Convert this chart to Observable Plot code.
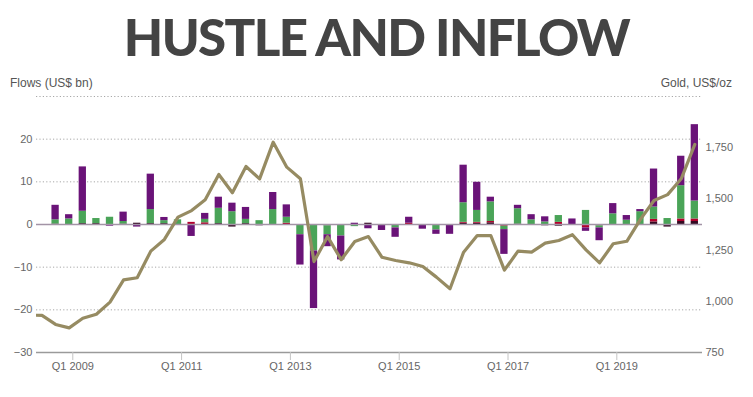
<!DOCTYPE html>
<html>
<head>
<meta charset="utf-8">
<script src="https://cdn.jsdelivr.net/npm/d3@7"></script>
<script src="https://cdn.jsdelivr.net/npm/@observablehq/plot@0.6"></script>
<style>
  html, body { margin: 0; padding: 0; background: #fff; }
  #wrap { position: relative; width: 753px; height: 397px; overflow: hidden; font-family: "Liberation Sans", Arial, sans-serif; }
  #title { position: absolute; left: 0; top: 11px; width: 753px; text-align: center; font-family: Lato, "Open Sans", sans-serif; font-weight: 900; font-size: 51px; line-height: 51px; color: #444; letter-spacing: -1.6px; white-space: nowrap; }
  .lab { position: absolute; font-size: 12px; line-height: 12px; color: #555; white-space: nowrap; }
  #chart { position: absolute; left: 0; top: 70px; }
</style>
</head>
<body>
<div id="wrap">
  <div id="title">HUSTLE AND INFLOW</div>
  <div class="lab" style="left:10px; top:77px;">Flows (US$ bn)</div>
  <div class="lab" style="right:21px; top:77px;">Gold, US$/oz</div>
  <div id="chart"></div>
</div>
<script>
// Quarters Q3 2008 .. Q2 2020 (bars)
const barQuarters = [
  "2008Q3","2008Q4",
  "2009Q1","2009Q2","2009Q3","2009Q4",
  "2010Q1","2010Q2","2010Q3","2010Q4",
  "2011Q1","2011Q2","2011Q3","2011Q4",
  "2012Q1","2012Q2","2012Q3","2012Q4",
  "2013Q1","2013Q2","2013Q3","2013Q4",
  "2014Q1","2014Q2","2014Q3","2014Q4",
  "2015Q1","2015Q2","2015Q3","2015Q4",
  "2016Q1","2016Q2","2016Q3","2016Q4",
  "2017Q1","2017Q2","2017Q3","2017Q4",
  "2018Q1","2018Q2","2018Q3","2018Q4",
  "2019Q1","2019Q2","2019Q3","2019Q4",
  "2020Q1","2020Q2"
];

// Flows, US$ bn, by region (stack order from zero outward)
const other = [
  0.1,-0.2, 0.2, 0.2, 0, 0.1, 0.3, 0.2, 0.2,-0.2,
  0, 0, 0.2,-0.6, 0.2,-0.3,-0.1, 0, 0, 0,
  -0.3, 0, 0, 0.3, 0, 0, 0, 0, 0, 0,
  0.3, 0.3, 0.4, 0, 0.1, 0,-0.3,-0.4,-0.2, 0,
  0, 0, 0, 0, 0.6,-0.6, 0.7, 0.7
];
const asia = [
  0, 0, 0, 0, 0, 0, 0, 0, 0, 0,
  0.5, 0.4, 0, 0, 0, 0, 0, 0.3, 0,-0.2,
  0, 0, 0, 0, 0, 0, 0.3, 0, 0,-0.2,
  0.2, 0.2, 0.3,-0.4, 0, 0, 0, 0.5, 0,-0.8,
  -0.3, 0, 0, 0, 0.6, 0, 0.6, 0.6
];
const europe = [
  1.0, 1.3, 2.9, 1.2, 1.7, 0.6, 0, 3.3, 0.7, 1.1,
  0, 0.8, 3.6, 3.0, 1.0, 0.9, 3.5, 1.4,-2.4,-6.0,
  -2.1,-2.7,-0.5, 0,-0.2,-0.8, 0, 0,-1.3, 0,
  4.6, 2.8, 4.6,-0.8, 3.6, 1.1, 0.6, 1.6, 0, 3.3,
  -0.5, 2.5, 1.0, 3.0, 2.9, 1.4, 7.8, 4.2
];
const northAmerica = [
  3.4, 1.0, 10.4, 0,-0.4, 2.2,-0.6, 8.3, 0.75, 0,
  -2.8, 1.4, 2.6, 2.0, 2.8, 0, 4.0, 2.9,-7.1,-13.5,
  -2.8,-5.6, 0.3,-1.0,-1.2,-2.2, 1.4,-1.1,-1.0,-2.1,
  8.8, 6.6, 1.1,-5.8, 0.8, 1.2, 1.2, 0, 1.3,-0.8,
  -3.0, 2.4, 1.1, 0.5, 8.9, 0, 6.9, 17.9
];

// Gold price, US$/oz, end of quarter, Q1 2008 .. Q2 2020
const goldQuarters = ["2008Q1","2008Q2"].concat(barQuarters);
const gold = [
  933, 931, 887, 870,
  917, 937, 996, 1105,
  1115, 1245, 1302, 1411,
  1443, 1496, 1619, 1530,
  1658, 1598, 1777, 1655,
  1598, 1194, 1316, 1203,
  1292, 1316, 1215, 1199,
  1188, 1170, 1118, 1061,
  1240, 1321, 1321, 1152,
  1245, 1240, 1284, 1297,
  1325, 1251, 1188, 1281,
  1293, 1400, 1492, 1521,
  1598, 1766
];

const seriesNames = ["Other", "Asia", "Europe", "North America"];
const seriesColors = ["#330a22", "#b3002d", "#4aa458", "#6a1378"];
const seriesValues = [other, asia, europe, northAmerica];

const xTickYears = [2009, 2011, 2013, 2015, 2017, 2019];
const flowTicks = [-30, -20, -10, 0, 10, 20];
const gridTicks = [-20, -10, 10, 20, 30];
const goldTicks = [750, 1000, 1250, 1500, 1750];

// Helpers
const qTime = q => +q.slice(0, 4) + (+q.slice(5)) / 4 - 0.066;
const halfBar = 0.067;
const goldMin = 750, goldMax = 2000, flowMin = -30, flowMax = 30;
const goldToY = g => (g - goldMin) / (goldMax - goldMin) * (flowMax - flowMin) + flowMin;
const yToGold = y => (y - flowMin) / (flowMax - flowMin) * (goldMax - goldMin) + goldMin;

const flows = [];
barQuarters.forEach((q, i) => {
  seriesNames.forEach((s, k) => {
    flows.push({quarter: q, t: qTime(q), series: s, value: seriesValues[k][i]});
  });
});
const goldData = goldQuarters.map((q, i) => ({quarter: q, t: qTime(q), y: goldToY(gold[i])}));

const chart = Plot.plot({
  width: 753,
  height: 327,
  marginLeft: 36,
  marginRight: 51,
  marginTop: 26,
  marginBottom: 45,
  style: {fontFamily: "Liberation Sans, Arial, sans-serif", fontSize: "11px", color: "#666", background: "transparent"},
  x: {domain: [2008.333, 2020.575]},
  y: {domain: [flowMin, flowMax]},
  color: {domain: seriesNames, range: seriesColors},
  marks: [
    Plot.ruleY(gridTicks, {stroke: "#a8a8a8", strokeWidth: 1, strokeDasharray: "1.2,2.2"}),
    Plot.rectY(flows, {x1: d => d.t - halfBar, x2: d => d.t + halfBar, y: "value", fill: "series", order: seriesNames}),
    Plot.ruleY([0], {stroke: "#a394a6", strokeWidth: 1.6}),
    Plot.ruleY([flowMin], {stroke: "#9a9a9a", strokeWidth: 1.3}),
    Plot.line(goldData, {x: "t", y: "y", stroke: "#968b62", strokeWidth: 3.2, clip: true}),
    Plot.axisX({ticks: xTickYears, tickFormat: d => "Q1 " + d, tickSize: 8, tickPadding: 2, stroke: "#c4c4c4", fill: "#666", label: null}),
    Plot.axisY({ticks: flowTicks, tickSize: 0, tickPadding: 4, fill: "#666", label: null}),
    Plot.axisY({anchor: "right", ticks: goldTicks.map(goldToY), tickFormat: y => d3.format(",")(Math.round(yToGold(y))), tickSize: 0, tickPadding: 3, fill: "#666", label: null})
  ]
});
document.getElementById("chart").appendChild(chart);
</script>
</body>
</html>
